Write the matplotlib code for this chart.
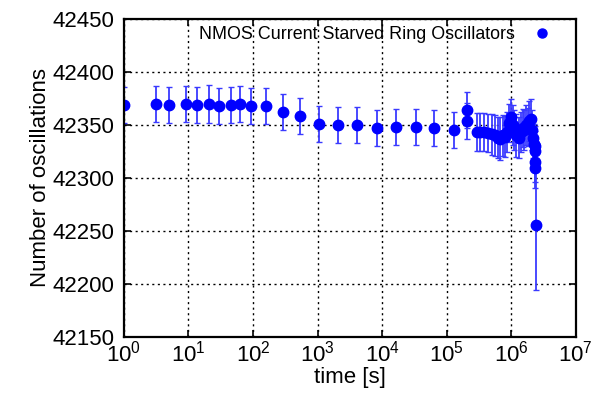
import matplotlib
matplotlib.use("Agg")
import matplotlib.pyplot as plt
from matplotlib.lines import Line2D

plt.rcParams['font.family'] = ['Liberation Sans', 'DejaVu Sans']
plt.rcParams['mathtext.fontset'] = 'custom'
plt.rcParams['mathtext.rm'] = 'Liberation Sans'

# time [s] and oscillation counts
time_s = [1.0, 3.1, 5.0, 9.2, 13.5, 21, 29.5, 45.7, 63, 93, 157, 287, 532,
          1050, 2050, 4050, 8310, 16600, 32900, 64700, 132000, 207000, 207000,
          2.9e5, 3.3e5, 3.8e5, 4.4e5, 5.0e5, 5.6e5, 6.2e5, 6.8e5, 7.4e5, 8.0e5,
          8.7e5, 9.3e5, 1.0e6, 1.05e6, 1.1e6, 1.2e6, 1.3e6, 1.4e6, 1.5e6, 1.6e6,
          1.7e6, 1.8e6, 1.9e6, 2.0e6, 2.1e6, 2.2e6, 2.25e6, 2.3e6, 2.33e6,
          2.35e6, 2.37e6, 2.38e6]
counts = [42369, 42370, 42369, 42370, 42369, 42370, 42368, 42369, 42370, 42368,
          42368, 42362, 42358, 42351, 42350, 42350, 42347, 42348, 42348, 42347,
          42345, 42364, 42354,
          42343, 42343, 42343, 42342, 42341, 42340, 42338, 42337, 42340, 42339,
          42343, 42352, 42357, 42350, 42345, 42340, 42338, 42343, 42347, 42345,
          42350, 42348, 42354, 42356, 42345, 42338, 42332, 42330, 42325,
          42315, 42309, 42256]
errors = [17, 17, 17, 17, 17, 18, 17, 17, 17, 17,
          17, 17, 17, 17, 17, 17, 17, 17, 17, 17,
          17, 17, 17,
          18, 18, 18, 18, 19, 19, 19, 20, 19, 19,
          19, 18, 17, 19, 19, 20, 19, 19, 18, 19,
          19, 18, 19, 18, 19, 19, 19, 19, 19,
          19, 19, 62]
series_name = 'NMOS Current Starved Ring Oscillators'

fig = plt.figure(figsize=(6.1, 3.94), dpi=100)
ax = fig.add_axes([0.203, 0.145, 0.741, 0.807])

ax.errorbar(time_s, counts, yerr=errors, fmt='o', color='#0000ff',
            ecolor='#3a3aff', elinewidth=1.3, capsize=2.2, capthick=1.0,
            markersize=7.5)

ax.set_xscale('log')
ax.set_xlim(1, 1e7)
ax.set_ylim(42150, 42450)
ax.set_yticks(range(42150, 42451, 50))
ax.set_xticks([10**k for k in range(8)])
ax.minorticks_off()

ax.grid(True, color='black', linestyle=(0, (1.5, 2.5)), linewidth=1.0)
ax.tick_params(direction='in', top=True, right=True, labelsize=16,
               length=5, width=1.2, pad=7)
ax.tick_params(axis='x', pad=3)
for s in ax.spines.values():
    s.set_linewidth(1.6)

ax.set_xlabel('time [s]', fontsize=16, labelpad=0)
ax.set_ylabel('Number of oscillations', fontsize=16, labelpad=1)

handle = Line2D([], [], marker='o', linestyle='none', color='#0000ff',
                markersize=6.5)
ax.legend([handle], [series_name], loc='upper right',
          bbox_to_anchor=(0.98, 1.0), frameon=False,
          markerfirst=False, fontsize=12.9, handletextpad=0.5,
          borderaxespad=0.1, handlelength=2.0, borderpad=0.3)

fig.savefig('out.png', dpi=100)
